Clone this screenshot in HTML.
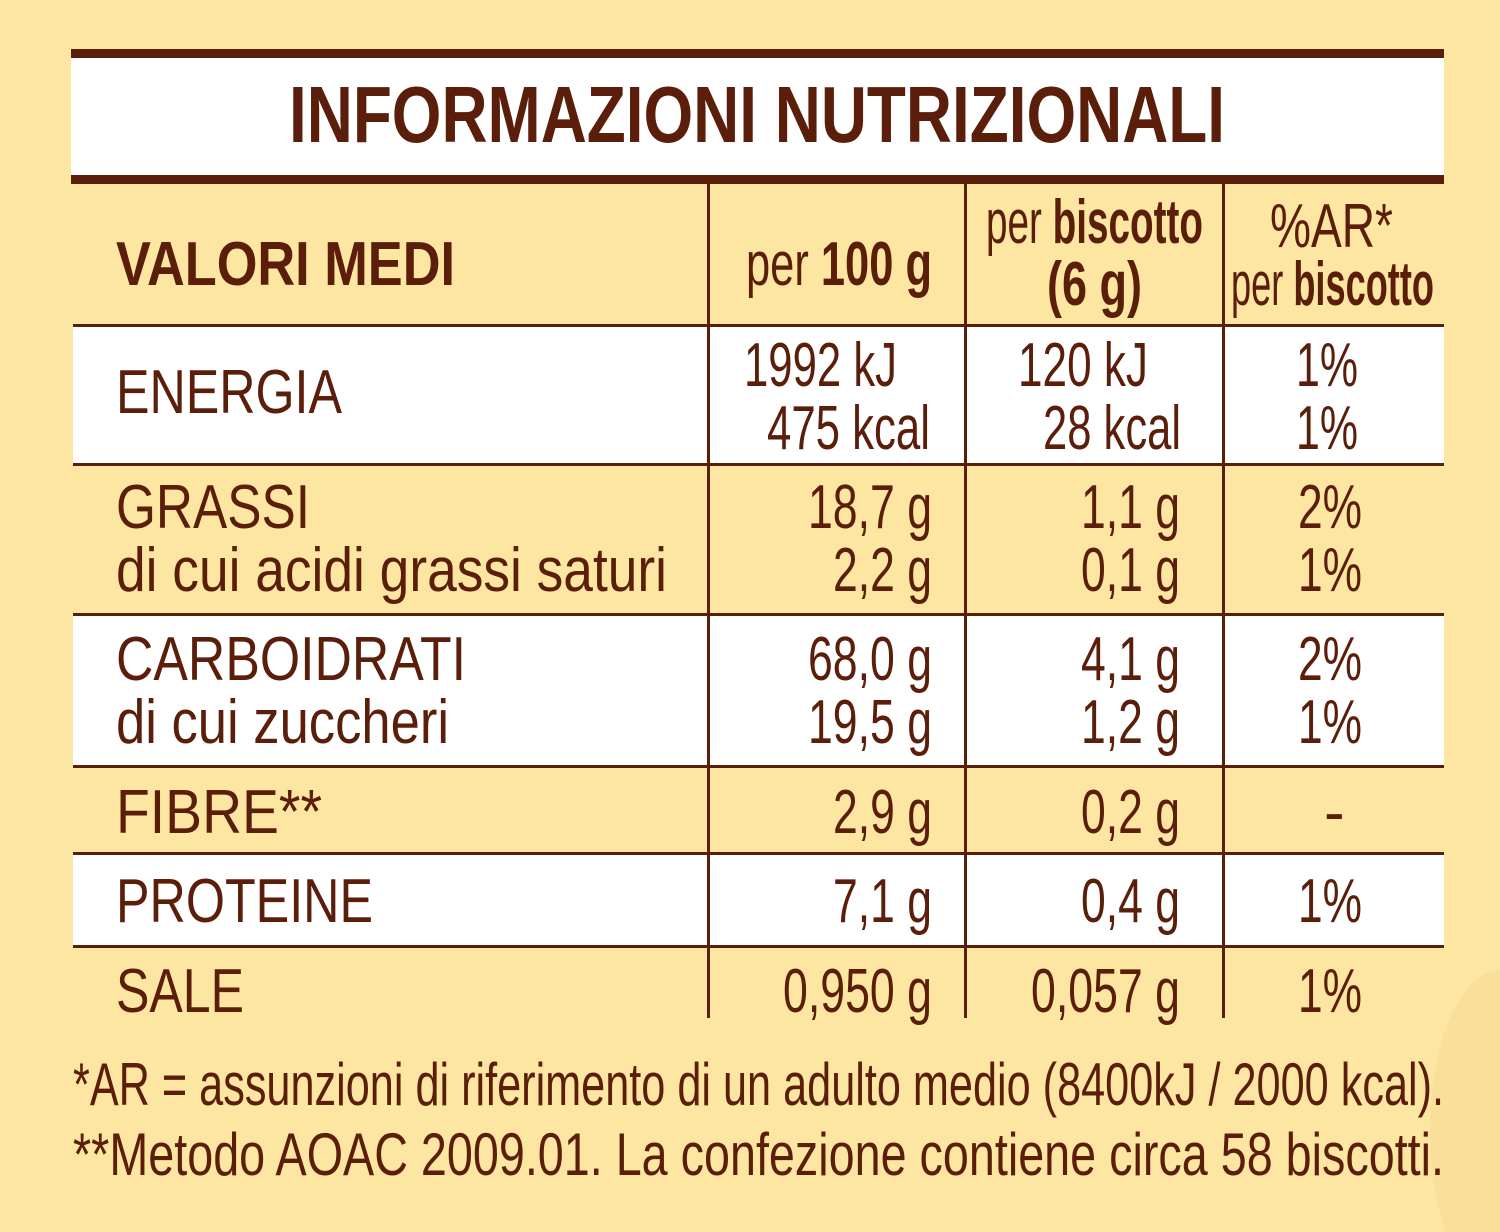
<!DOCTYPE html>
<html><head><meta charset="utf-8"><style>
html,body{margin:0;padding:0;background:#fde6a1;}
svg{display:block}
text{font-family:"Liberation Sans",sans-serif;fill:#5a1e0a;}
.b{font-weight:bold}
</style></head><body>
<svg width="1500" height="1232" viewBox="0 0 1500 1232" xmlns="http://www.w3.org/2000/svg">
<rect width="1500" height="1232" fill="#fde6a1"/>
<ellipse cx="1500" cy="1130" rx="70" ry="160" fill="#f8dc98" opacity="0.7"/>
<!-- title -->
<rect x="71" y="49" width="1373" height="9" fill="#5a1e0a"/>
<rect x="71" y="58" width="1373" height="117" fill="#fff"/>
<rect x="71" y="175" width="1373" height="9" fill="#5a1e0a"/>
<!-- white rows -->
<rect x="73" y="327" width="1371" height="137" fill="#fff"/>
<rect x="73" y="616" width="1371" height="149" fill="#fff"/>
<rect x="73" y="855" width="1371" height="91" fill="#fff"/>
<!-- horizontal lines -->
<g fill="#5a1e0a">
<rect x="73" y="324" width="1371" height="3"/>
<rect x="73" y="463" width="1371" height="3"/>
<rect x="73" y="613" width="1371" height="3"/>
<rect x="73" y="765" width="1371" height="3"/>
<rect x="73" y="852" width="1371" height="3"/>
<rect x="73" y="945" width="1371" height="3"/>
<rect x="707" y="184" width="3" height="834"/>
<rect x="964" y="184" width="3" height="834"/>
<rect x="1222" y="184" width="3" height="834"/>
</g>
<text class="b" x="289" y="142" font-size="80" textLength="936" lengthAdjust="spacingAndGlyphs">INFORMAZIONI NUTRIZIONALI</text>
<text class="b" x="116" y="285" font-size="62" textLength="339" lengthAdjust="spacingAndGlyphs">VALORI MEDI</text>
<text x="746" y="285" font-size="62" textLength="186" lengthAdjust="spacingAndGlyphs">per <tspan class="b">100 g</tspan></text>
<text x="986" y="243" font-size="62" textLength="217" lengthAdjust="spacingAndGlyphs">per <tspan class="b">biscotto</tspan></text>
<text class="b" x="1047" y="305" font-size="62" textLength="95" lengthAdjust="spacingAndGlyphs">(6 g)</text>
<text x="1270" y="247" font-size="62" textLength="123" lengthAdjust="spacingAndGlyphs">%AR*</text>
<text x="1231" y="305" font-size="62" textLength="203" lengthAdjust="spacingAndGlyphs">per <tspan class="b">biscotto</tspan></text>
<g font-size="62">
<text x="116" y="413" textLength="226" lengthAdjust="spacingAndGlyphs">ENERGIA</text>
<text x="744" y="386" textLength="153" lengthAdjust="spacingAndGlyphs">1992 kJ</text>
<text x="767" y="449" textLength="163" lengthAdjust="spacingAndGlyphs">475 kcal</text>
<text x="1018" y="386" textLength="130" lengthAdjust="spacingAndGlyphs">120 kJ</text>
<text x="1043" y="449" textLength="138" lengthAdjust="spacingAndGlyphs">28 kcal</text>
<text x="1296" y="386" textLength="62" lengthAdjust="spacingAndGlyphs">1%</text>
<text x="1296" y="449" textLength="62" lengthAdjust="spacingAndGlyphs">1%</text>

<text x="116" y="528" textLength="194" lengthAdjust="spacingAndGlyphs">GRASSI</text>
<text x="116" y="591" textLength="551" lengthAdjust="spacingAndGlyphs">di cui acidi grassi saturi</text>
<text x="808" y="528" textLength="124" lengthAdjust="spacingAndGlyphs">18,7 g</text>
<text x="833" y="591" textLength="99" lengthAdjust="spacingAndGlyphs">2,2 g</text>
<text x="1081" y="528" textLength="99" lengthAdjust="spacingAndGlyphs">1,1 g</text>
<text x="1081" y="591" textLength="99" lengthAdjust="spacingAndGlyphs">0,1 g</text>
<text x="1298" y="528" textLength="64" lengthAdjust="spacingAndGlyphs">2%</text>
<text x="1298" y="591" textLength="64" lengthAdjust="spacingAndGlyphs">1%</text>

<text x="116" y="680" textLength="350" lengthAdjust="spacingAndGlyphs">CARBOIDRATI</text>
<text x="116" y="743" textLength="333" lengthAdjust="spacingAndGlyphs">di cui zuccheri</text>
<text x="808" y="680" textLength="124" lengthAdjust="spacingAndGlyphs">68,0 g</text>
<text x="808" y="743" textLength="124" lengthAdjust="spacingAndGlyphs">19,5 g</text>
<text x="1081" y="680" textLength="99" lengthAdjust="spacingAndGlyphs">4,1 g</text>
<text x="1081" y="743" textLength="99" lengthAdjust="spacingAndGlyphs">1,2 g</text>
<text x="1298" y="680" textLength="64" lengthAdjust="spacingAndGlyphs">2%</text>
<text x="1298" y="743" textLength="64" lengthAdjust="spacingAndGlyphs">1%</text>

<text x="116" y="833" textLength="206" lengthAdjust="spacingAndGlyphs">FIBRE**</text>
<text x="833" y="833" textLength="99" lengthAdjust="spacingAndGlyphs">2,9 g</text>
<text x="1081" y="833" textLength="99" lengthAdjust="spacingAndGlyphs">0,2 g</text>
<text x="1324" y="833">-</text>

<text x="116" y="922" textLength="257" lengthAdjust="spacingAndGlyphs">PROTEINE</text>
<text x="833" y="922" textLength="99" lengthAdjust="spacingAndGlyphs">7,1 g</text>
<text x="1081" y="922" textLength="99" lengthAdjust="spacingAndGlyphs">0,4 g</text>
<text x="1298" y="922" textLength="64" lengthAdjust="spacingAndGlyphs">1%</text>

<text x="116" y="1012" textLength="128" lengthAdjust="spacingAndGlyphs">SALE</text>
<text x="783" y="1012" textLength="149" lengthAdjust="spacingAndGlyphs">0,950 g</text>
<text x="1031" y="1012" textLength="149" lengthAdjust="spacingAndGlyphs">0,057 g</text>
<text x="1298" y="1012" textLength="64" lengthAdjust="spacingAndGlyphs">1%</text>
</g>
<g font-size="60">
<text x="73" y="1105" textLength="1371" lengthAdjust="spacingAndGlyphs">*AR = assunzioni di riferimento di un adulto medio (8400kJ / 2000 kcal).</text>
<text x="73" y="1175" textLength="1371" lengthAdjust="spacingAndGlyphs">**Metodo AOAC 2009.01. La confezione contiene circa 58 biscotti.</text>
</g>
</svg>
</body></html>
